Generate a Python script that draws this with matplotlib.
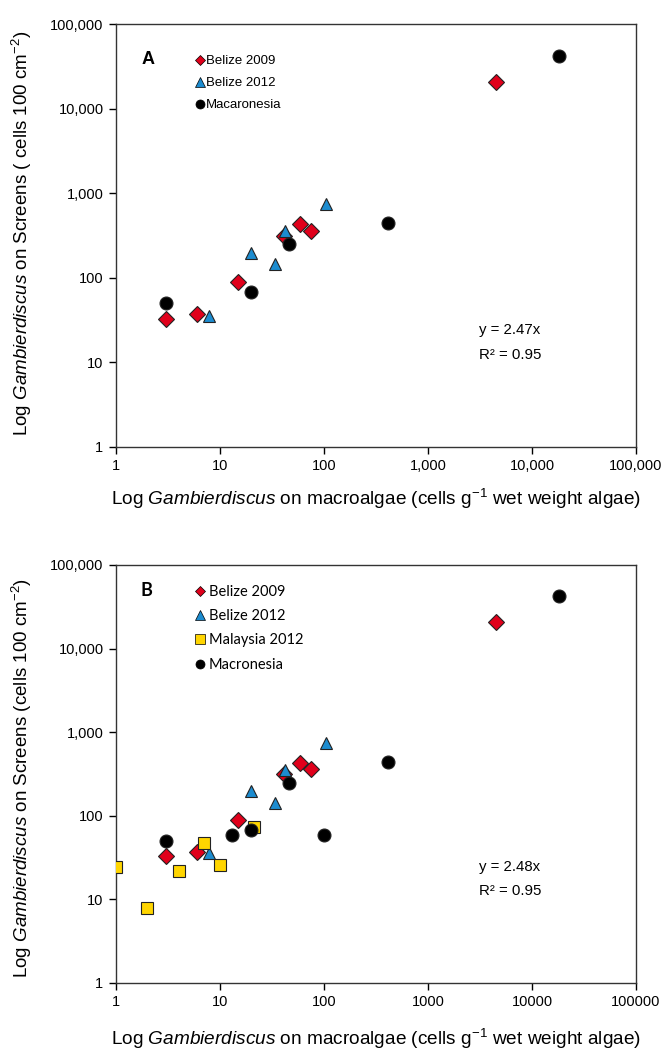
import matplotlib
matplotlib.use("Agg")
import matplotlib.pyplot as plt
from matplotlib.lines import Line2D
from matplotlib.ticker import FuncFormatter, LogLocator, NullLocator

plt.rcParams['font.family'] = ['Liberation Sans', 'DejaVu Sans']
plt.rcParams['mathtext.fontset'] = 'custom'
plt.rcParams['mathtext.rm'] = 'Liberation Sans'
plt.rcParams['mathtext.it'] = 'Liberation Sans:italic'

# ---- data (cells g-1 algae, cells 100 cm-2 screen) ----
belize2009_x = [3, 6, 15, 41, 58.5, 75, 4550]
belize2009_y = [33, 37, 90, 313, 427, 359, 20600]
belize2012_x = [7.9, 20, 34, 42, 105]
belize2012_y = [35.6, 198, 144, 353, 746]
macaronesia_A_x = [3, 20, 46, 412, 18100]
macaronesia_A_y = [50.5, 67.5, 249, 443, 42200]
malaysia2012_x = [1, 2, 4.06, 7.06, 10, 21]
malaysia2012_y = [24.3, 8, 21.7, 47.3, 26.1, 73]
macaronesia_B_x = [3, 13, 20, 46, 100, 412, 18100]
macaronesia_B_y = [50.5, 58.9, 67.5, 249, 59, 443, 42200]

eqA = ["y = 2.47x", "R² = 0.95"]
eqB = ["y = 2.48x", "R² = 0.95"]

RED = '#E0001B'
BLUE = '#1C8CD0'
YEL = '#FFD500'
MS = 9.3

fig = plt.figure(figsize=(6.64, 10.52), dpi=100)
axA = fig.add_axes([116/664, 1-447/1052, 520/664, 423/1052])
axB = fig.add_axes([116/664, 1-983/1052, 520/664, 418/1052])

comma = FuncFormatter(lambda v, p: f"{int(round(v)):,}")
plain = FuncFormatter(lambda v, p: f"{int(round(v))}")

def setup(ax, xfmt):
    ax.set_xscale('log')
    ax.set_yscale('log')
    ax.set_xlim(1, 100000)
    ax.set_ylim(1, 100000)
    ax.xaxis.set_major_locator(LogLocator(base=10, numticks=10))
    ax.yaxis.set_major_locator(LogLocator(base=10, numticks=10))
    ax.xaxis.set_minor_locator(NullLocator())
    ax.yaxis.set_minor_locator(NullLocator())
    ax.xaxis.set_major_formatter(xfmt)
    ax.yaxis.set_major_formatter(comma)
    ax.tick_params(axis='both', which='major', direction='out', length=5,
                   width=1, labelsize=10.5, colors='black', pad=4)
    ax.tick_params(top=False, right=False)
    for s in ax.spines.values():
        s.set_linewidth(1.0)
        s.set_color('#333333')

def pts(ax, x, y, marker, color, size=MS, z=3):
    ax.plot(x, y, linestyle='none', marker=marker, markersize=size,
            markerfacecolor=color, markeredgecolor='#222222',
            markeredgewidth=0.8, zorder=z)

# ---- Panel A ----
setup(axA, comma)
pts(axA, belize2009_x, belize2009_y, 'D', RED, size=MS*0.85)
pts(axA, belize2012_x, belize2012_y, '^', BLUE)
pts(axA, macaronesia_A_x, macaronesia_A_y, 'o', 'black')
axA.set_xlabel("Log $\\mathit{Gambierdiscus}$ on macroalgae (cells g$^{-1}$ wet weight algae)",
               fontsize=13.7)
axA.set_ylabel("Log $\\mathit{Gambierdiscus}$ on Screens ( cells 100 cm$^{-2}$)",
               fontsize=13.5)
axA.xaxis.set_label_coords(0.5, -0.095)
axA.yaxis.set_label_coords(-0.158, 0.505)
fig.text(148/664, 1-60/1052, "A", fontsize=13, fontweight='bold', ha='center', va='center')
hA = [Line2D([], [], linestyle='none', marker='D', markersize=5.5, markerfacecolor=RED, markeredgecolor='black', markeredgewidth=0.5),
      Line2D([], [], linestyle='none', marker='^', markersize=6.5, markerfacecolor=BLUE, markeredgecolor='black', markeredgewidth=0.5),
      Line2D([], [], linestyle='none', marker='o', markersize=6.5, markerfacecolor='black', markeredgecolor='black', markeredgewidth=0.5)]
axA.legend(hA, ["Belize 2009", "Belize 2012", "Macaronesia"], loc='upper left',
           bbox_to_anchor=((196-116)/520, 1-(24+7)/423), frameon=False,
           fontsize=9.5, handlelength=0.6, handletextpad=0.15, labelspacing=0.75,
           borderpad=0, borderaxespad=0)
axA.text((479-116)/520, (447-330)/423, eqA[0], transform=axA.transAxes,
         fontsize=10.8, va='center', ha='left')
axA.text((479-116)/520, (447-355)/423, eqA[1], transform=axA.transAxes,
         fontsize=10.8, va='center', ha='left')

# ---- Panel B ----
setup(axB, plain)
pts(axB, belize2009_x, belize2009_y, 'D', RED, size=MS*0.85)
pts(axB, belize2012_x, belize2012_y, '^', BLUE)
pts(axB, malaysia2012_x, malaysia2012_y, 's', YEL, size=MS*0.95)
pts(axB, macaronesia_B_x, macaronesia_B_y, 'o', 'black')
axB.set_xlabel("Log $\\mathit{Gambierdiscus}$ on macroalgae (cells g$^{-1}$ wet weight algae)",
               fontsize=13.7)
axB.set_ylabel("Log $\\mathit{Gambierdiscus}$ on Screens (cells 100 cm$^{-2}$)",
               fontsize=13.5)
axB.xaxis.set_label_coords(0.5, -0.105)
axB.yaxis.set_label_coords(-0.158, 0.49)
fig.text(146/664, 1-590/1052, "B", fontsize=13, fontweight='bold', ha='center', va='center',
         family=['Lato', 'DejaVu Sans'])
hB = [Line2D([], [], linestyle='none', marker='D', markersize=5.5, markerfacecolor=RED, markeredgecolor='black', markeredgewidth=0.5),
      Line2D([], [], linestyle='none', marker='^', markersize=6.5, markerfacecolor=BLUE, markeredgecolor='black', markeredgewidth=0.5),
      Line2D([], [], linestyle='none', marker='s', markersize=6.5, markerfacecolor=YEL, markeredgecolor='black', markeredgewidth=0.5),
      Line2D([], [], linestyle='none', marker='o', markersize=6.5, markerfacecolor='black', markeredgecolor='black', markeredgewidth=0.5)]
axB.legend(hB, ["Belize 2009", "Belize 2012", "Malaysia 2012", "Macronesia"], loc='upper left',
           bbox_to_anchor=((196-116)/520, 1-(585-565)/418), frameon=False,
           prop={'family': ['Lato', 'DejaVu Sans'], 'size': 10.5},
           handlelength=0.6, handletextpad=0.3, labelspacing=0.7,
           borderpad=0, borderaxespad=0)
axB.text((479-116)/520, (983-867)/418, eqB[0], transform=axB.transAxes,
         fontsize=10.8, va='center', ha='left')
axB.text((479-116)/520, (983-891)/418, eqB[1], transform=axB.transAxes,
         fontsize=10.8, va='center', ha='left')

fig.savefig("out.png", dpi=100)
